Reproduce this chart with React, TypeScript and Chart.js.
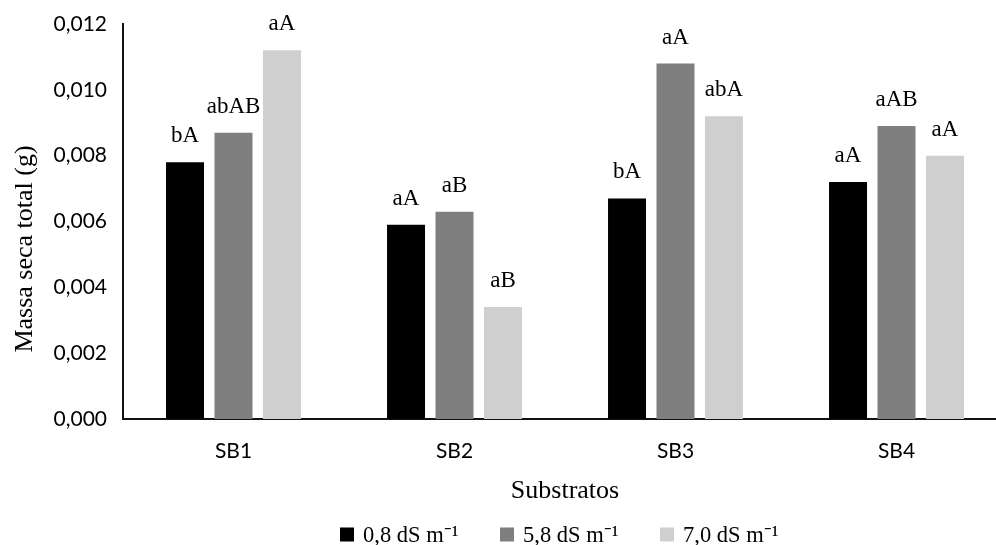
import React, { useEffect, useRef } from "react";
import { Chart, registerables } from "chart.js";

Chart.register(...registerables);

// ---- data ----
const categories = ["SB1", "SB2", "SB3", "SB4"];
const seriesNames = ["0,8 dS m⁻¹", "5,8 dS m⁻¹", "7,0 dS m⁻¹"];
const series08 = [0.0078, 0.0059, 0.0067, 0.0072];
const series58 = [0.0087, 0.0063, 0.0108, 0.0089];
const series70 = [0.0112, 0.0034, 0.0092, 0.008];
const letters08 = ["bA", "aA", "bA", "aA"];
const letters58 = ["abAB", "aB", "aA", "aAB"];
const letters70 = ["aA", "aB", "abA", "aA"];
const yTicks = [0, 0.002, 0.004, 0.006, 0.008, 0.01, 0.012];
const yTitle = "Massa seca total (g)";
const xTitle = "Substratos";

const seriesValues = [series08, series58, series70];
const seriesLetters = [letters08, letters58, letters70];
const seriesColors = ["#000000", "#7f7f7f", "#d0cfd0"];

const SERIF = "'Liberation Serif', 'Times New Roman', serif";
const SANS = "Lato, 'Open Sans', sans-serif";

const annotate = {
  id: "annotate",
  afterDatasetsDraw(chart: any) {
    const ctx = chart.ctx as CanvasRenderingContext2D;
    const area = chart.chartArea;
    ctx.save();
    ctx.fillStyle = "#000";
    ctx.textBaseline = "alphabetic";

    // letters above bars
    ctx.font = `23px ${SERIF}`;
    ctx.textAlign = "center";
    chart.data.datasets.forEach((ds: any, i: number) => {
      const meta = chart.getDatasetMeta(i);
      meta.data.forEach((bar: any, j: number) => {
        ctx.fillText(seriesLetters[i][j], bar.x, bar.y - 20);
      });
    });

    const cx = (area.left + area.right) / 2;

    // x title
    ctx.font = `26px ${SERIF}`;
    ctx.fillText(xTitle, cx, area.bottom + 79);

    // y title
    ctx.save();
    ctx.translate(32, 249);
    ctx.rotate(-Math.PI / 2);
    ctx.fillText(yTitle, 0, 0);
    ctx.restore();

    // legend
    ctx.font = `22.5px ${SERIF}`;
    ctx.textAlign = "left";
    const startX = cx - 225;
    seriesNames.forEach((name, i) => {
      const bx = startX + i * 160;
      const by = area.bottom + 108.5;
      ctx.fillStyle = seriesColors[i];
      ctx.fillRect(bx, by, 14, 14);
      ctx.fillStyle = "#000";
      ctx.fillText(name, bx + 23, area.bottom + 122.5);
    });

    ctx.restore();
  },
};

export default function App() {
  const ref = useRef<HTMLCanvasElement | null>(null);

  useEffect(() => {
    if (!ref.current) return;
    const chart = new Chart(ref.current, {
      type: "bar",
      data: {
        labels: categories,
        datasets: seriesValues.map((vals, i) => ({
          label: seriesNames[i],
          data: vals,
          backgroundColor: seriesColors[i],
          borderWidth: 0,
          categoryPercentage: 0.658,
          barPercentage: 0.784,
        })),
      },
      options: {
        responsive: false,
        animation: false,
        devicePixelRatio: 1,
        layout: { padding: { left: 0, top: 24, right: 3, bottom: 86 } },
        plugins: {
          legend: { display: false },
          tooltip: { enabled: false },
        },
        scales: {
          x: {
            grid: { display: false, drawTicks: false },
            border: { display: true, color: "#111", width: 2 },
            ticks: {
              color: "#000",
              font: { family: SANS, size: 21 },
              padding: 20,
            },
            afterFit: (s: any) => {
              s.height = 40;
              s.paddingLeft = 0;
              s.paddingRight = 0;
            },
          },
          y: {
            min: 0,
            max: 0.012,
            grid: { display: false, drawTicks: false },
            border: { display: true, color: "#111", width: 2 },
            ticks: {
              color: "#000",
              font: { family: SANS, size: 21 },
              padding: 16,
              callback: (v: any) => Number(v).toFixed(3).replace(".", ","),
            },
            afterBuildTicks: (s: any) => {
              s.ticks = yTicks.map((v) => ({ value: v }));
            },
            afterFit: (s: any) => {
              s.width = 123;
              s.paddingTop = 0;
              s.paddingBottom = 0;
            },
          },
        },
      },
      plugins: [annotate],
    });
    return () => chart.destroy();
  }, []);

  return (
    <canvas
      ref={ref}
      width={1010}
      height={545}
      style={{ position: "fixed", left: 0, top: 0 }}
    />
  );
}
